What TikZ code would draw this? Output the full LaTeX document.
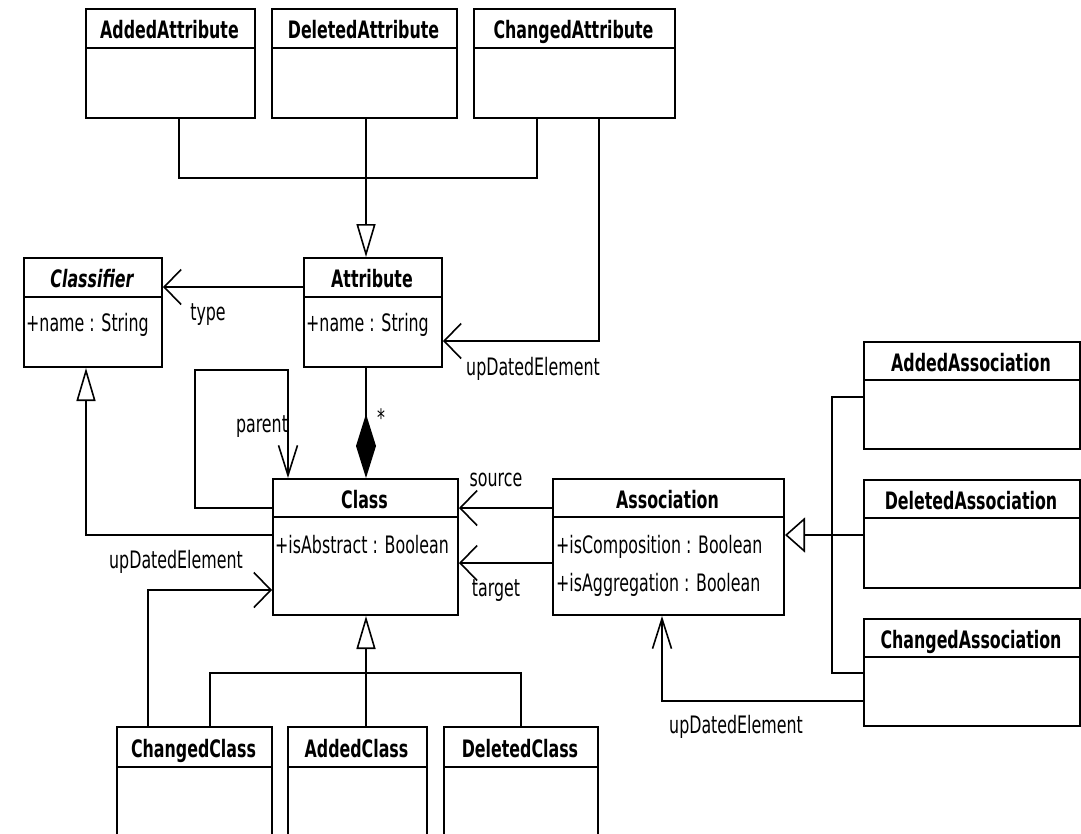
\documentclass[tikz,border=0pt]{standalone}
\usepackage{fontspec}
\setmainfont{DejaVu Sans}[FakeStretch=0.66]
\usetikzlibrary{arrows.meta,calc}

% class box: name, left, top, right, bottom, header line, title
\newcommand\umlclass[7]{%
  \node[classbox, minimum width={#4-#2}, minimum height={#5-#3}] (#1) at (#2,#3) {};
  \draw[sepline] (#2,#6) -- (#4,#6);
  \node[ctitle] (#1-title) at ({(#2+#4)/2},{(#3+#6)/2+2}) {#7};
}

\begin{document}
\begin{tikzpicture}[x=1pt,y=-1pt,
  classbox/.style={draw, line width=2pt, fill=white, inner sep=0pt, anchor=north west},
  sepline/.style={line width=2.4pt},
  ctitle/.style={font=\fontsize{24}{28}\selectfont\bfseries, inner sep=0pt, text height=17pt, text depth=0pt},
  attr/.style={font=\fontsize{24}{28}\selectfont, inner sep=0pt, anchor=west, text height=17pt, text depth=0pt},
  lbl/.style={font=\fontsize{24}{28}\selectfont, inner sep=0pt, text height=17pt, text depth=0pt},
  conn/.style={line width=1.6pt},
  genV/.style={conn, -{Triangle[open, length=33pt, width=19pt]}},
  genH/.style={conn, -{Triangle[open, length=20pt, width=35pt]}},
  navH/.style={conn, -{Straight Barb[length=17pt, width=35pt]}},
  navV/.style={conn, -{Straight Barb[length=30pt, width=19pt]}},
  comp/.style={conn, -{Diamond[fill=black, length=64pt, width=20pt]}}
]
\path[use as bounding box, fill=white] (0,0) rectangle (1081,833);

% attribute change kinds
\umlclass{AddedAttribute}{85}{8}{254}{117}{48}{AddedAttribute}
\umlclass{DeletedAttribute}{271}{8}{456}{117}{48}{DeletedAttribute}
\umlclass{ChangedAttribute}{473}{8}{674}{117}{48}{ChangedAttribute}

% core metamodel
\umlclass{Classifier}{23}{257}{161}{366}{297}{\itshape Classifier}
\node[attr] (Classifier-a1) at (26,323) {+name : String};
\umlclass{Attribute}{303}{257}{441}{366}{297}{Attribute}
\node[attr] (Attribute-a1) at (306,323) {+name : String};
\umlclass{Class}{272}{478}{457}{614}{517}{Class}
\node[attr] (Class-a1) at (275,545) {+isAbstract : Boolean};
\umlclass{Association}{552}{478}{783}{614}{517}{Association}
\node[attr] (Association-a1) at (556,545) {+isComposition : Boolean};
\node[attr] (Association-a2) at (556,583) {+isAggregation : Boolean};

% association change kinds
\umlclass{AddedAssociation}{863}{341}{1079}{448}{380}{AddedAssociation}
\umlclass{DeletedAssociation}{863}{479}{1079}{587}{518}{DeletedAssociation}
\umlclass{ChangedAssociation}{863}{618}{1079}{725}{657}{ChangedAssociation}

% class change kinds
\umlclass{ChangedClass}{116}{726}{271}{850}{767}{ChangedClass}
\umlclass{AddedClass}{287}{726}{426}{850}{767}{AddedClass}
\umlclass{DeletedClass}{443}{726}{597}{850}{767}{DeletedClass}

% generalization of attribute changes
\draw[conn] ($(AddedAttribute.south west)+(94,0)$) |- ($(ChangedAttribute.south west)+(64,59)$) -- ($(ChangedAttribute.south west)+(64,0)$);
\draw[genV] ($(DeletedAttribute.south west)+(95,0)$) -- ($(Attribute.north west)+(63,0)$);

% Attribute -> Classifier (type)
\draw[navH] ($(Attribute.north west)+(0,30)$) -- ($(Classifier.north east)+(0,30)$);
\node[lbl] (l-type) at (208,312) {type};

% ChangedAttribute -> Attribute
\draw[navH] ($(ChangedAttribute.south west)+(126,0)$) |- ($(Attribute.north east)+(0,84)$);
\node[lbl] (l-upd1) at (533,367) {upDatedElement};

% composition Class <>- Attribute
\draw[comp] ($(Attribute.south west)+(63,0)$) -- ($(Class.north west)+(94,0)$);
\node[lbl] (l-star) at (381,418) {*};

% parent self association
\coordinate (loop) at (195,370);
\draw[navV] ($(Class.north west)+(0,30)$) -| (loop) -| ($(Class.north west)+(16,0)$);
\node[lbl] (l-parent) at (262,424) {parent};

% Class specializes Classifier
\draw[genV] ($(Class.north west)+(0,57)$) -| ($(Classifier.south west)+(63,0)$);

% ChangedClass -> Class
\draw[navH] ($(ChangedClass.north west)+(32,0)$) |- ($(Class.north west)+(0,112)$);
\node[lbl] (l-upd2) at (176,560) {upDatedElement};

% generalization of class changes
\draw[genV] ($(AddedClass.north west)+(79,0)$) -- ($(Class.south west)+(94,0)$);
\draw[conn] ($(ChangedClass.north west)+(94,0)$) |- ($(DeletedClass.north west)+(78,-53)$) -- ($(DeletedClass.north west)+(78,0)$);

% Association source / target
\draw[navH] ($(Association.north west)+(0,30)$) -- ($(Class.north east)+(0,30)$);
\node[lbl] (l-source) at (496,478) {source};
\draw[navH] ($(Association.north west)+(0,85)$) -- ($(Class.north east)+(0,85)$);
\node[lbl] (l-target) at (496,588) {target};

% generalization of association changes
\draw[genH] ($(DeletedAssociation.north west)+(0,56)$) -- ($(Association.north east)+(0,57)$);
\draw[conn] ($(AddedAssociation.north west)+(0,56)$) -- ++(-31,0) |- ($(ChangedAssociation.north west)+(0,55)$);

% ChangedAssociation -> Association
\draw[navV] ($(ChangedAssociation.north west)+(0,83)$) -| ($(Association.south west)+(110,0)$);
\node[lbl] (l-upd3) at (736,725) {upDatedElement};
\end{tikzpicture}
\end{document}
